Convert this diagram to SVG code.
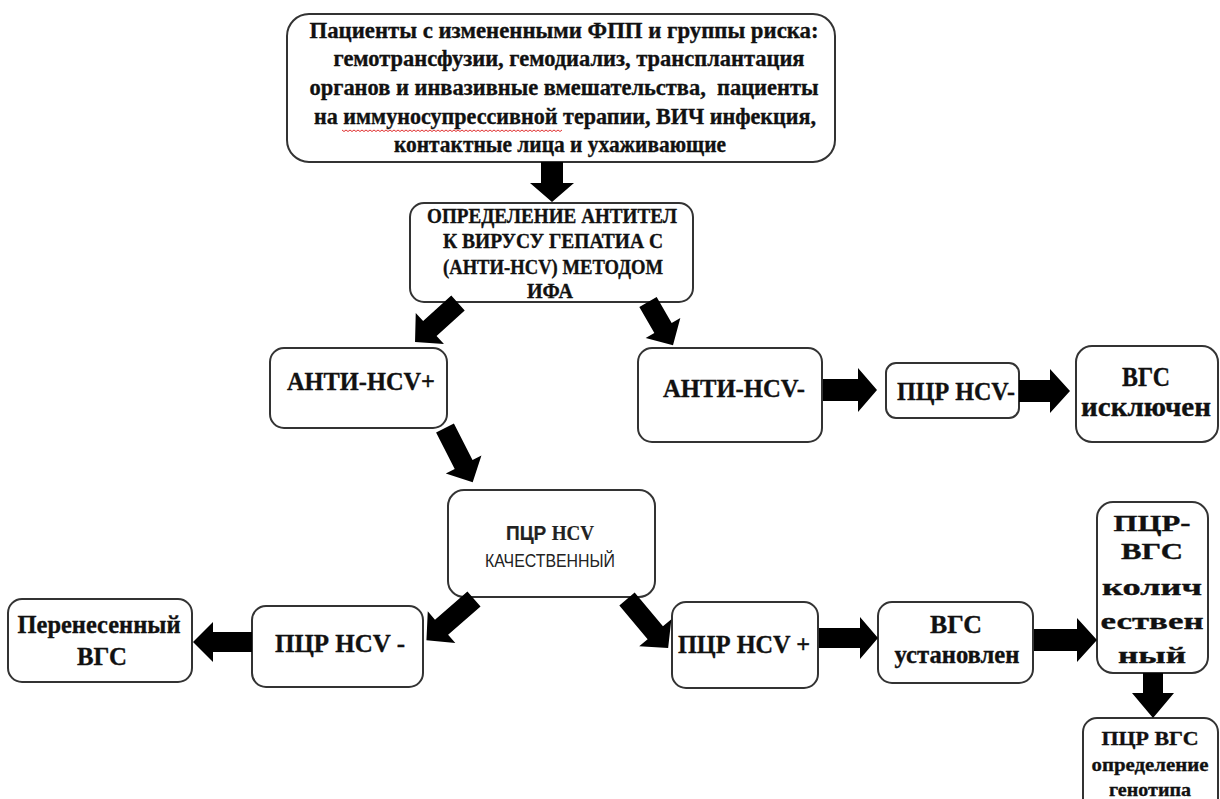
<svg xmlns="http://www.w3.org/2000/svg" width="1220" height="799" viewBox="0 0 1220 799">
<style>
.box{fill:#fff;stroke:#333;stroke-width:2}
.t{font-family:"Liberation Serif","Times New Roman",serif;font-weight:bold;fill:#111;stroke:#111;stroke-width:0.35;text-anchor:middle}
.sans{font-family:"Liberation Sans",Arial,sans-serif;fill:#222;text-anchor:middle}
.arr{fill:#000}
</style>
<rect width="1220" height="799" fill="#fff"/>
<g id="n1">
<rect class="box" x="287" y="14" width="548" height="148" rx="22"/>
<text class="t" font-size="23.5" x="564" y="38" textLength="509" lengthAdjust="spacingAndGlyphs">Пациенты с измененными ФПП и группы риска:</text>
<text class="t" font-size="23.5" x="569" y="66" textLength="471" lengthAdjust="spacingAndGlyphs">гемотрансфузии, гемодиализ, трансплантация</text>
<text class="t" font-size="23.5" x="564" y="95" textLength="509" lengthAdjust="spacingAndGlyphs" style="white-space:pre">органов и инвазивные вмешательства,  пациенты</text>
<text class="t" font-size="23.5" x="565" y="124" textLength="502" lengthAdjust="spacingAndGlyphs">на иммуносупрессивной терапии, ВИЧ инфекция,</text>
<text class="t" font-size="23.5" x="560" y="152" textLength="332" lengthAdjust="spacingAndGlyphs">контактные лица и ухаживающие</text>
<path d="M342,130 l2,1.5 l2,-1.5 l2,1.5 l2,-1.5 l2,1.5 l2,-1.5 l2,1.5 l2,-1.5 l2,1.5 l2,-1.5 l2,1.5 l2,-1.5 l2,1.5 l2,-1.5 l2,1.5 l2,-1.5 l2,1.5 l2,-1.5 l2,1.5 l2,-1.5 l2,1.5 l2,-1.5 l2,1.5 l2,-1.5 l2,1.5 l2,-1.5 l2,1.5 l2,-1.5 l2,1.5 l2,-1.5 l2,1.5 l2,-1.5 l2,1.5 l2,-1.5 l2,1.5 l2,-1.5 l2,1.5 l2,-1.5 l2,1.5 l2,-1.5 l2,1.5 l2,-1.5 l2,1.5 l2,-1.5 l2,1.5 l2,-1.5 l2,1.5 l2,-1.5 l2,1.5 l2,-1.5 l2,1.5 l2,-1.5 l2,1.5 l2,-1.5 l2,1.5 l2,-1.5 l2,1.5 l2,-1.5 l2,1.5 l2,-1.5 l2,1.5 l2,-1.5 l2,1.5 l2,-1.5 l2,1.5 l2,-1.5 l2,1.5 l2,-1.5 l2,1.5 l2,-1.5 l2,1.5 l2,-1.5 l2,1.5 l2,-1.5 l2,1.5 l2,-1.5 l2,1.5 l2,-1.5 l2,1.5 l2,-1.5 l2,1.5 l2,-1.5 l2,1.5 l2,-1.5 l2,1.5 l2,-1.5 l2,1.5 l2,-1.5 l2,1.5 l2,-1.5 l2,1.5 l2,-1.5 l2,1.5 l2,-1.5 l2,1.5 l2,-1.5 l2,1.5 l2,-1.5 l2,1.5 l2,-1.5 l2,1.5 l2,-1.5 l2,1.5 l2,-1.5 l2,1.5 l2,-1.5 l2,1.5 l2,-1.5 l2,1.5 l2,-1.5" fill="none" stroke="#e03030" stroke-width="1"/>
</g>
<g id="n2">
<rect class="box" x="410" y="203" width="283" height="99" rx="14"/>
<text class="t" font-size="20.5" x="552" y="223" textLength="250" lengthAdjust="spacingAndGlyphs">ОПРЕДЕЛЕНИЕ АНТИТЕЛ</text>
<text class="t" font-size="20.5" x="553" y="248" textLength="220" lengthAdjust="spacingAndGlyphs">К ВИРУСУ ГЕПАТИА С</text>
<text class="t" font-size="20.5" x="553" y="274" textLength="220" lengthAdjust="spacingAndGlyphs">(АНТИ-HCV) МЕТОДОМ</text>
<text class="t" font-size="20.5" x="550" y="298" textLength="46" lengthAdjust="spacingAndGlyphs">ИФА</text>
</g>
<g id="n3">
<rect class="box" x="270" y="348" width="177" height="80" rx="14"/>
<text class="t" font-size="26" x="361" y="390" textLength="148" lengthAdjust="spacingAndGlyphs">АНТИ-HCV+</text>
</g>
<g id="n4">
<rect class="box" x="638" y="348" width="184" height="94" rx="14"/>
<text class="t" font-size="26" x="734" y="397" textLength="142" lengthAdjust="spacingAndGlyphs">АНТИ-HCV-</text>
</g>
<g id="n5">
<rect class="box" x="886" y="363" width="133" height="55" rx="10"/>
<text class="t" font-size="26" x="956" y="400" textLength="118" lengthAdjust="spacingAndGlyphs">ПЦР HCV-</text>
</g>
<g id="n6">
<rect class="box" x="1076" y="346" width="142" height="96" rx="16"/>
<text class="t" font-size="27" x="1146" y="386" textLength="48" lengthAdjust="spacingAndGlyphs">ВГС</text>
<text class="t" font-size="27" x="1146" y="416" textLength="130" lengthAdjust="spacingAndGlyphs">исключен</text>
</g>
<g id="n7">
<rect class="box" x="448" y="490" width="207" height="107" rx="16"/>
<text x="550" y="540" font-size="20" text-anchor="middle" fill="#222" stroke="#222" stroke-width="0.2" textLength="88" lengthAdjust="spacingAndGlyphs"><tspan font-family="Liberation Sans, Arial, sans-serif" font-weight="bold">ПЦР </tspan><tspan font-family="Liberation Serif, Times New Roman, serif" font-weight="bold">HCV</tspan></text>
<text class="sans" font-size="19" x="550" y="567" textLength="130" lengthAdjust="spacingAndGlyphs">КАЧЕСТВЕННЫЙ</text>
</g>
<g id="n8">
<rect class="box" x="8" y="599" width="184" height="83" rx="14"/>
<text class="t" font-size="25.5" x="99" y="633" textLength="163" lengthAdjust="spacingAndGlyphs">Перенесенный</text>
<text class="t" font-size="25.5" x="102" y="665" textLength="50" lengthAdjust="spacingAndGlyphs">ВГС</text>
</g>
<g id="n9">
<rect class="box" x="252" y="606" width="171" height="81" rx="14"/>
<text class="t" font-size="26" x="340" y="652" textLength="130" lengthAdjust="spacingAndGlyphs">ПЦР HCV -</text>
</g>
<g id="n10">
<rect class="box" x="672" y="602" width="146" height="86" rx="14"/>
<text class="t" font-size="26" x="744" y="653" textLength="132" lengthAdjust="spacingAndGlyphs">ПЦР HCV +</text>
</g>
<g id="n11">
<rect class="box" x="878" y="602" width="155" height="81" rx="14"/>
<text class="t" font-size="25.5" x="956" y="633" textLength="52" lengthAdjust="spacingAndGlyphs">ВГС</text>
<text class="t" font-size="25.5" x="957" y="663" textLength="125" lengthAdjust="spacingAndGlyphs">установлен</text>
</g>
<g id="n12">
<rect class="box" x="1097" y="502" width="111" height="171" rx="16"/>
<text class="t" font-size="24" x="1152" y="531" textLength="77" lengthAdjust="spacingAndGlyphs">ПЦР-</text>
<text class="t" font-size="24" x="1152" y="559" textLength="62" lengthAdjust="spacingAndGlyphs">ВГС</text>
<text class="t" font-size="24" x="1152" y="595" textLength="100" lengthAdjust="spacingAndGlyphs">колич</text>
<text class="t" font-size="24" x="1152" y="629" textLength="103" lengthAdjust="spacingAndGlyphs">ествен</text>
<text class="t" font-size="24" x="1152" y="663" textLength="68" lengthAdjust="spacingAndGlyphs">ный</text>
</g>
<g id="n13">
<rect class="box" x="1083" y="718" width="135" height="100" rx="14"/>
<text class="t" font-size="19.5" x="1150" y="745" textLength="97" lengthAdjust="spacingAndGlyphs">ПЦР ВГС</text>
<text class="t" font-size="19.5" x="1150" y="771" textLength="117" lengthAdjust="spacingAndGlyphs">определение</text>
<text class="t" font-size="19.5" x="1150" y="796" textLength="82" lengthAdjust="spacingAndGlyphs">генотипа</text>
</g>
<g id="connectors">
<polygon class="arr" transform="translate(552,162) rotate(90)" points="0,-11 21,-11 21,-22 40,0 21,22 21,11 0,11"/>
<polygon class="arr" transform="translate(458,303) rotate(137.8)" points="0,-10 38,-10 38,-21 58,0 38,21 38,10 0,10"/>
<polygon class="arr" transform="translate(648,302) rotate(60)" points="0,-10 30,-10 30,-20 50,0 30,20 30,10 0,10"/>
<polygon class="arr" transform="translate(445,428) rotate(63)" points="0,-10 41,-10 41,-20 61,0 41,20 41,10 0,10"/>
<polygon class="arr" transform="translate(823,390)" points="0,-11 35,-11 35,-22 54,0 35,22 35,11 0,11"/>
<polygon class="arr" transform="translate(1019,391)" points="0,-11 31,-11 31,-22 51,0 31,22 31,11 0,11"/>
<polygon class="arr" transform="translate(474,599) rotate(139)" points="0,-10 43,-10 43,-21 63,0 43,21 43,10 0,10"/>
<polygon class="arr" transform="translate(627,599) rotate(50)" points="0,-10 44,-10 44,-21 64,0 44,21 44,10 0,10"/>
<polygon class="arr" transform="translate(252,642) rotate(180)" points="0,-10 39,-10 39,-20 59,0 39,20 39,10 0,10"/>
<polygon class="arr" transform="translate(819,638)" points="0,-10 41,-10 41,-21 59,0 41,21 41,10 0,10"/>
<polygon class="arr" transform="translate(1034,640)" points="0,-11 43,-11 43,-22 63,0 43,22 43,11 0,11"/>
<polygon class="arr" transform="translate(1153,673) rotate(90)" points="0,-10 20,-10 20,-21 45,0 20,21 20,10 0,10"/>
</g>
</svg>
